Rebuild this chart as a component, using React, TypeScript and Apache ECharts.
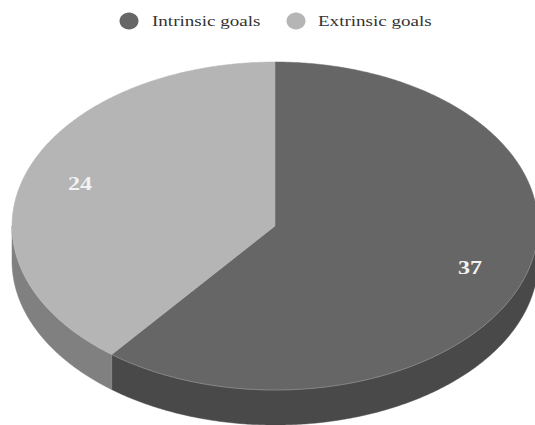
import React, { useEffect, useRef } from "react";
import * as echarts from "echarts";

// Goal counts shown on the tilted pie.
const categories = ["Intrinsic goals", "Extrinsic goals"];
const goalCounts = [37, 24];
const topColors = ["#666666", "#b5b5b5"];
const sideColors = ["#494949", "#808080"];

const WIDTH = 535;
const HEIGHT = 425;
const CX = 275;
const CY = 226;
const RX = 263;
const RY = 164;
const DEPTH = 35;
const LABEL_RADIUS = 0.785;
const TEXT_STRETCH = 1.27;
const SERIF = '"Liberation Serif", serif';

const rimPoint = (deg: number, drop = 0): number[] => {
  const a = (deg * Math.PI) / 180;
  return [CX + RX * Math.sin(a), CY - RY * Math.cos(a) + drop];
};

const arcPoints = (from: number, to: number, drop = 0): number[][] => {
  const steps = Math.max(2, Math.ceil(Math.abs(to - from) * 2));
  const pts: number[][] = [];
  for (let i = 0; i <= steps; i++) pts.push(rimPoint(from + ((to - from) * i) / steps, drop));
  return pts;
};

const total = goalCounts.reduce((s, v) => s + v, 0);

// Start and end angle of a slice, clockwise from twelve o'clock.
const sliceAngles = (index: number): [number, number] => {
  const before = goalCounts.slice(0, index).reduce((s, v) => s + v, 0);
  return [(before / total) * 360, ((before + goalCounts[index]) / total) * 360];
};

const renderSlice = (index: number) => () => {
  const [start, end] = sliceAngles(index);
  const children: any[] = [];

  // The wall is only visible on the front half of the rim (90° to 270°).
  const wallFrom = Math.max(start, 90);
  const wallTo = Math.min(end, 270);
  if (wallTo > wallFrom) {
    children.push({
      type: "polygon",
      shape: {
        points: [...arcPoints(wallFrom, wallTo), ...arcPoints(wallTo, wallFrom, DEPTH)],
      },
      style: { fill: sideColors[index], stroke: sideColors[index], lineWidth: 0.5 },
    });
  }

  children.push({
    type: "polygon",
    shape: { points: [[CX, CY], ...arcPoints(start, end)] },
    style: { fill: topColors[index], stroke: topColors[index], lineWidth: 0.5 },
  });

  if (index === 0) {
    // Pale highlight along the front edge of the darker slice.
    children.push({
      type: "polyline",
      shape: { points: arcPoints(wallFrom, wallTo) },
      style: { fill: "none", stroke: "#8a8a8a", lineWidth: 0.8 },
    });
  }

  const mid = (start + end) / 2;
  const a = (mid * Math.PI) / 180;
  children.push({
    type: "text",
    x: CX + LABEL_RADIUS * RX * Math.sin(a),
    y: CY - LABEL_RADIUS * RY * Math.cos(a),
    scaleX: TEXT_STRETCH,
    style: {
      text: String(goalCounts[index]),
      x: 0,
      y: 0,
      align: "center",
      verticalAlign: "middle",
      fill: "#f2f2f2",
      fontSize: 19,
      fontWeight: "bold",
      fontFamily: SERIF,
    },
  });

  return { type: "group", children };
};

const legendEntry = (index: number, markerX: number, textX: number) => [
  {
    type: "ellipse",
    shape: { cx: markerX, cy: 21, rx: 9.5, ry: 8.5 },
    style: { fill: topColors[index] },
  },
  {
    type: "text",
    x: textX,
    y: 21,
    scaleX: TEXT_STRETCH,
    style: {
      text: categories[index],
      x: 0,
      y: 0,
      align: "left",
      verticalAlign: "middle",
      fill: "#333333",
      fontSize: 15,
      fontFamily: SERIF,
    },
  },
];

export default function App() {
  const ref = useRef<HTMLDivElement>(null);

  useEffect(() => {
    const chart = echarts.init(ref.current!, null, { renderer: "svg" });
    chart.setOption({
      animation: false,
      backgroundColor: "#ffffff",
      series: categories.map((name, i) => ({
        type: "custom",
        name,
        coordinateSystem: "none",
        data: [goalCounts[i]],
        renderItem: renderSlice(i),
        silent: true,
      })),
      graphic: [...legendEntry(0, 129, 152), ...legendEntry(1, 296, 318)],
    });
    return () => chart.dispose();
  }, []);

  return (
    <div
      ref={ref}
      style={{ position: "absolute", left: 0, top: 0, width: WIDTH, height: HEIGHT }}
    />
  );
}
